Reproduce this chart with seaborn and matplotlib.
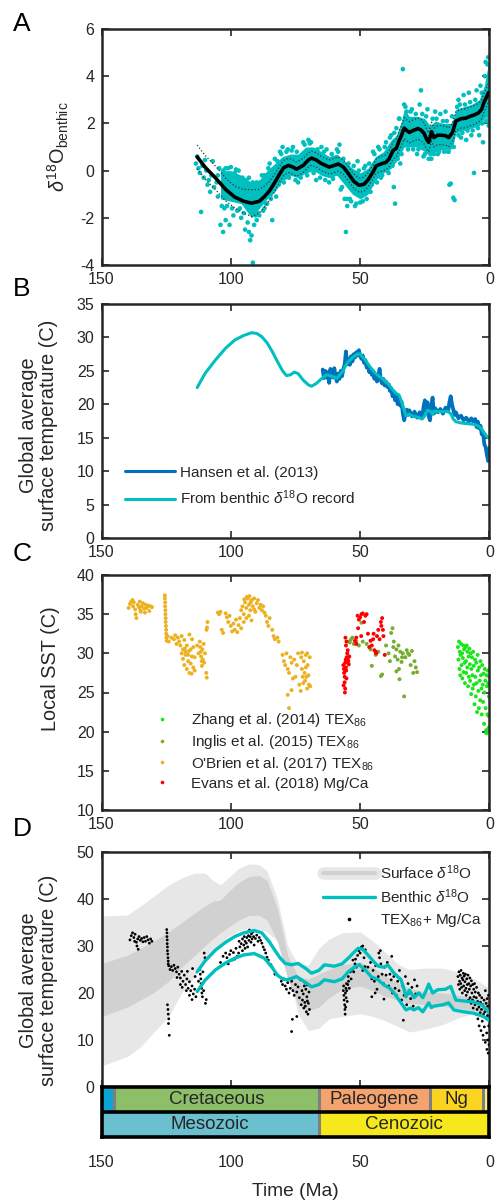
import numpy as np
import matplotlib
matplotlib.use("Agg")
import matplotlib.pyplot as plt
from matplotlib.lines import Line2D
from matplotlib.legend_handler import HandlerTuple
import seaborn as sns

# ---------------- Panel A : benthic d18O ----------------
A_age = [113, 110, 106, 102, 98.5, 95, 92, 89, 87, 85,
         83, 81, 79.6, 77.7, 76, 74.6, 72, 70, 68.8, 67,
         65, 62, 60, 58.5, 56.5, 54.6, 52.5, 50.4, 48.5, 47,
         45, 43.8, 41.5, 40, 38.8, 37.3, 36, 35, 34, 33,
         32, 31, 29.5, 27.7, 26.5, 25.3, 24.2, 23.5, 22.4, 21.5,
         20, 18.8, 17, 15.8, 14.3, 13, 11, 9.2, 7.5, 6.1,
         4.2, 3, 2.3, 1.2, 0.4, 0]
A_d18 = [0.58, 0.15, -0.3, -0.8, -1.12, -1.3, -1.38, -1.3, -1.1, -0.85,
         -0.5, -0.12, 0.12, 0.22, 0.15, 0.06, 0.22, 0.45, 0.53, 0.45,
         0.3, 0.15, 0.22, 0.28, 0.15, -0.12, -0.45, -0.62, -0.58, -0.4,
         -0.05, 0.2, 0.3, 0.35, 0.5, 0.85, 0.95, 1.25, 1.5, 1.8,
         1.7, 1.62, 1.7, 1.78, 1.72, 1.58, 1.3, 1.2, 1.65, 1.4,
         1.5, 1.5, 1.48, 1.4, 1.62, 2.1, 2.2, 2.22, 2.3, 2.35,
         2.45, 2.6, 2.85, 3.1, 3.3, 3.3]
A_err = [0.5, 0.5, 0.5, 0.48, 0.46, 0.5, 0.57, 0.5, 0.45, 0.4,
         0.36, 0.33, 0.32, 0.3, 0.3, 0.3, 0.3, 0.3, 0.3, 0.3,
         0.3, 0.3, 0.3, 0.3, 0.3, 0.3, 0.3, 0.3, 0.3, 0.3,
         0.3, 0.3, 0.32, 0.32, 0.33, 0.35, 0.38, 0.4, 0.42, 0.45,
         0.45, 0.45, 0.45, 0.45, 0.45, 0.45, 0.42, 0.4, 0.4, 0.4,
         0.4, 0.4, 0.4, 0.4, 0.4, 0.4, 0.4, 0.4, 0.4, 0.4,
         0.4, 0.4, 0.4, 0.4, 0.4, 0.4]

# dense part of the benthic data cloud (lower / upper envelope)
core_age = [104, 100, 96, 92, 89, 86, 83, 80, 77, 74, 71, 68, 65, 62, 59, 56, 53, 50, 47, 44,
            41, 38, 36, 34, 33, 31, 28, 25, 23, 21, 18, 15, 14, 13, 10, 7, 4, 2, 1, 0]
core_lo = [-1.2, -1.3, -1.4, -2.0, -1.6, -1.2, -0.9, -0.4, -0.2, -0.3, -0.1, 0.0, -0.2, -0.3, -0.2, -0.6, -1.0, -1.2, -1.0, -0.4,
           -0.1, 0.1, 0.4, 0.8, 1.0, 1.0, 1.0, 0.8, 0.6, 0.8, 0.9, 0.9, 1.1, 1.6, 1.7, 1.8, 1.9, 2.2, 2.3, 2.0]
core_hi = [0.0, 0.0, -0.2, -0.5, -0.4, 0.0, 0.3, 0.6, 0.7, 0.7, 1.0, 1.0, 0.8, 0.6, 0.7, 0.4, 0.1, -0.1, 0.1, 0.6,
           0.8, 1.3, 1.5, 2.1, 2.6, 2.3, 2.3, 2.2, 1.9, 2.1, 2.0, 2.0, 2.2, 2.6, 2.7, 2.8, 3.0, 3.6, 4.2, 4.8]

# scattered individual benthic measurements
A_pt_age = [113.5, 113, 112.5, 112, 111.5, 111, 110.5, 110, 109.5, 109, 108.5, 108, 107.5, 107, 106.5, 105.5, 105,
            104, 103, 102, 101, 100.5, 99, 98, 96, 94.5, 93, 92.5, 92, 91.5, 91, 90, 89, 88, 87, 86.5,
            85, 84, 83.5, 81, 80, 79, 78, 76, 74, 72, 70, 69, 67, 65, 63, 62, 59, 58, 57.5, 56, 55.5,
            55, 54, 52, 51, 49, 48, 46, 45, 43, 42, 40, 39, 38, 37, 36.5, 36, 35, 34.5, 33.5, 33, 32,
            30, 28, 27, 26.5, 25.5, 24, 22.5, 21, 20, 19, 17, 16, 15.5, 15, 14, 13.5, 12, 11, 10, 9,
            8, 7, 6, 5, 4, 3.5, 2.5, 1.5, 0.8, 0.3,
            105, 104.5, 103.5, 103, 102.5, 102, 101.5, 100, 99.5, 98.5, 97.5, 97, 96.5, 95.5, 95, 94, 93.5, 93,
            91.5, 90.5, 90, 89.5, 88.5, 87.5, 87, 86, 85.5, 84.5, 83, 82.5, 82, 81.5, 80.5, 79.5, 78.5, 77.5,
            76.5, 75, 74.5, 73, 71.5, 70.5, 69.5, 68, 66.5, 65.5, 64, 63.5, 61, 60.5, 58.5, 57, 56.5, 55,
            54.5, 53.5, 52.5, 51.5, 50.5, 50, 48.5, 47.5, 46.5, 45.5, 44.5, 43.5, 42.5, 41.5, 40.5, 39.5, 38.5,
            37.5, 36.8, 35.5, 34.8, 34, 32.5, 31.5, 30.5, 29.5, 28.5, 27.5, 26, 25, 24.5, 23.5, 22, 21.5,
            20.5, 19.5, 18, 17.5, 16.5, 15.8, 14.5, 13.8, 12.5, 12, 11.5, 10.5, 9.5, 8.5, 7.5, 6.5, 5.5,
            4.5, 3, 2.8, 1.8, 1.2, 0.5, 0.2]
A_pt_val = [0.3, 0.6, 0.1, -0.1, -1.75, 0.2, -0.3, 0.45, 0.0, -0.6, -0.4, -0.9, -0.2, 0.4, -0.7, -0.5, -1.1,
            -2.3, -2.6, -2.1, 0.1, -2.3, -1.9, 0.05, -2.0, -2.5, -2.6, -2.95, -2.75, -3.9, -2.3, -2.1, -1.9, -0.2, -1.6, -1.4,
            0.3, -2.1, -0.1, 0.8, 1.0, -0.3, 0.9, 1.0, -0.5, 1.2, 1.3, 1.2, -0.4, 1.0, 0.9, -0.5, 0.9, 1.1, -0.8, -1.2, -2.6,
            -1.5, -1.2, -1.5, 0.4, -1.3, 0.2, -0.9, 0.8, 1.0, -0.3, 1.2, -0.1, 1.5, -0.7, -1.4, 1.8, 2.2, 0.3, 4.3, 2.8, 2.5,
            2.6, 0.7, 2.8, 3.4, 0.6, 2.6, 0.5, 2.5, 0.7, 2.4, 2.5, 0.8, -0.6, -0.55, -1.15, -1.25, 3.0, 1.4, 3.2, 1.3,
            3.3, 1.5, -0.1, 3.4, 1.5, 3.6, 1.2, 4.6, 4.5, 1.9,
            -0.2, 0.1, -1.5, 0.0, -1.6, 0.1, -1.5, 0.15, -1.6, -0.1, -1.7, 0.0, -1.6, -0.3, -1.8, -0.4, -2.2, -0.3,
            -0.5, -1.9, -0.5, -1.8, -0.5, -1.7, -0.2, -1.4, 0.1, -1.2, 0.5, -1.1, 0.4, -0.6, 0.7, -0.5, 0.8, -0.3,
            0.85, -0.4, 0.8, -0.3, 1.1, -0.2, 1.15, -0.1, 0.9, -0.3, 0.8, -0.4, 0.7, -0.35, 0.8, -0.7, 0.5, -1.2,
            0.3, -1.3, 0.2, -1.4, 0.0, -1.35, 0.1, -1.2, 0.3, -0.6, 0.7, -0.5, 0.9, -0.2, 1.0, 0.0, 1.4,
            0.2, 1.6, 0.5, 2.2, 0.7, 2.7, 0.9, 2.5, 0.9, 2.4, 0.9, 2.4, 0.7, 2.3, 0.5, 2.2, 0.7,
            2.2, 0.8, 2.1, 0.8, 2.1, 0.8, 2.3, 1.0, 2.7, 1.5, 2.8, 1.6, 2.8, 1.7, 2.9, 1.7, 3.0,
            1.8, 3.3, 2.0, 4.0, 2.1, 4.8, 2.2]

# ---------------- Panel B : global mean surface temperature ----------------
H_age = [64.5, 64, 63.5, 63, 62.5, 62, 61.5, 61, 60.5, 60, 59.5, 59, 58.5, 58, 57.5, 57, 56.5, 56, 55.5, 55,
         54.5, 54, 53.5, 53, 52.5, 52, 51.5, 51, 50.5, 50, 49.5, 49, 48.5, 48, 47.5, 47, 46.5, 46, 45.5, 45,
         44.5, 44, 43.5, 43, 42.5, 42, 41.5, 41, 40.5, 40, 39.5, 39, 38.5, 38, 37.5, 37, 36.5, 36, 35.5, 35,
         34.5, 34, 33.5, 33, 32.5, 32, 31.5, 31, 30, 29, 28, 27, 26, 25.5, 25, 24.5, 24, 23.5, 23, 22.5,
         22, 21.5, 21, 20, 19, 18, 17, 16, 15.5, 15, 14.5, 14, 13.5, 13, 12, 11, 10, 9, 8, 7,
         6, 5.5, 5, 4.5, 4, 3.5, 3, 2.5, 2, 1.5, 1, 0.5, 0]
H_T = [25.2, 23.9, 25.0, 24.0, 24.8, 23.2, 25.3, 24.5, 24.0, 25.4, 24.1, 23.4, 24.6, 23.8, 25.0, 24.2, 25.3, 25.9, 27.9, 26.0,
       26.8, 25.9, 27.2, 26.4, 27.5, 27.0, 27.8, 27.3, 28.1, 27.2, 26.8, 27.3, 26.2, 26.6, 25.5, 25.9, 24.8, 25.3, 24.4, 24.9,
       23.8, 24.4, 23.4, 24.0, 25.3, 23.6, 23.1, 23.8, 22.8, 23.4, 22.6, 23.0, 22.0, 22.4, 21.2, 21.8, 20.6, 21.3, 20.0, 20.9,
       19.8, 20.4, 18.6, 17.6, 18.5, 19.2, 18.4, 19.1, 18.2, 18.9, 18.0, 18.8, 18.1, 19.6, 20.6, 19.0, 20.3, 18.2, 17.6, 19.8,
       21.0, 18.6, 19.4, 18.8, 19.3, 18.6, 19.5, 19.0, 20.3, 21.2, 20.0, 19.2, 18.4, 18.8, 17.9, 18.3, 17.6, 18.0, 17.4, 17.9,
       17.2, 17.8, 16.6, 17.4, 16.4, 16.8, 15.5, 15.8, 14.0, 13.6, 12.4, 11.5, 13.5]

B_age = [113, 110, 106, 102, 98.5, 95, 92, 90, 88, 86, 84, 82, 80, 78.5, 77, 75.5, 74, 72, 70, 68.8,
         67, 65, 63, 61, 59, 57, 55, 53, 51, 50, 48, 46, 44, 42, 40.5, 39, 37.5, 36, 35, 34,
         33, 32.3, 31, 29.5, 28, 26, 25, 24, 23, 22, 21.5, 20, 18, 16, 15, 14, 13, 11, 8.5, 6,
         4.5, 3, 2, 1, 0]
B_T = [22.5, 24.6, 26.6, 28.4, 29.6, 30.3, 30.7, 30.6, 30.1, 29.2, 27.9, 26.4, 25.0, 24.3, 24.4, 24.8, 24.6, 23.6, 22.9, 22.7,
       23.1, 23.8, 24.4, 24.2, 23.9, 24.8, 26.2, 27.0, 27.5, 27.5, 26.6, 25.5, 24.6, 24.0, 23.5, 23.0, 22.2, 21.6, 21.4, 20.4,
       19.2, 18.3, 18.5, 18.2, 18.1, 17.8, 18.3, 19.1, 19.0, 18.5, 19.0, 18.9, 18.9, 18.9, 18.6, 17.8, 17.4, 17.2, 17.1, 17.0,
       16.8, 16.3, 15.7, 15.2, 14.9]

# ---------------- Panel C : local SST proxies ----------------
obrien_age = [139.5, 139, 138.5, 138, 137.5, 137, 136.8, 136.5, 136, 135.5, 135, 134.5, 134, 133.5, 133, 132.5, 132, 131.5, 131, 130.5,
              137.8, 135.2, 133.2, 134.8,
              125.5, 125.5, 125.4, 125.4, 125.3, 125.3, 125.2, 125.2, 125.1, 125.0, 125.0, 124.9, 124.8,
              124.5, 124, 123, 122, 121.5, 121, 120.5, 120, 119.5, 119, 118.5, 118, 117.5, 117, 116.5, 116, 115.5, 115, 114.5, 114,
              119, 118.5, 118, 117.5, 117, 116.5, 116, 115.5, 115, 114.5, 114, 117.8, 116.2, 115.2,
              112, 111.8, 111.6, 111.5, 111.3, 111.2, 111, 110.8, 110.5, 110.3, 110, 109.5, 109.3, 112.5, 113, 109, 109.2, 109.4,
              105, 104.5, 104, 103.5, 103, 102, 101.5, 101, 100.5, 100, 99.5, 99, 98.5, 98, 97.5, 97, 96.5, 96,
              96, 95.5, 95, 94.5, 94, 93.5, 93, 92.8, 92.5, 92, 91.5, 91, 90.5, 90, 89.5, 94, 95, 93, 92, 91, 93.8, 92.3, 94.8,
              89, 88.5, 88, 87.5, 87, 86.5, 86, 85.5, 85, 84, 83.5, 83, 82, 81.5,
              80, 79.5, 79, 78.5, 78, 77.5, 77, 76.5, 76, 75.5, 75, 74.5, 74, 73.5, 73, 72.8, 72.5, 72.2, 72, 71.8,
              71.5, 71.3, 71, 70.8, 70.5, 70.3, 70, 69.8, 69.5, 69.3, 78, 76.5, 77.5, 72.5, 71, 70.5]
obrien_T = [35.8, 36.3, 36.6, 36.8, 36.5, 35.6, 35.0, 34.5, 36.2, 35.9, 35.5, 36.0, 36.4, 35.7, 36.2, 35.8, 36.1, 35.4, 36.0, 35.9,
            36.0, 36.6, 35.2, 35.3,
            37.4, 37.0, 36.5, 36.0, 35.5, 35.0, 34.5, 34.0, 33.5, 33.0, 32.5, 32.0, 31.6,
            32.2, 31.5, 32.0, 31.8, 32.3, 31.2, 32.0, 31.5, 31.0, 32.2, 30.5, 31.7, 30.2, 31.0, 29.8, 32.4, 30.5, 31.8, 30.8, 29.5,
            30.0, 29.3, 28.5, 29.8, 28.0, 29.0, 27.5, 28.7, 29.6, 28.2, 27.8, 30.6, 30.3, 27.4,
            31.5, 30.8, 30.2, 29.6, 29.0, 28.4, 30.5, 29.2, 31.2, 28.8, 30.0, 27.5, 26.9, 30.0, 31.0, 34.0, 33.3, 33.0,
            35.2, 35.0, 35.3, 33.0, 32.6, 35.1, 34.6, 34.0, 34.8, 33.5, 32.8, 33.8, 33.0, 34.3, 32.7, 33.6, 34.5, 33.2,
            35.5, 36.0, 35.0, 36.5, 35.8, 37.0, 36.2, 37.3, 35.5, 36.8, 36.0, 37.0, 35.3, 36.4, 36.8, 34.5, 34.0, 34.8, 34.2, 35.6, 37.2, 36.5, 36.9,
            35.8, 36.2, 35.5, 36.0, 35.2, 34.8, 34.0, 33.5, 34.5, 33.0, 32.2, 31.8, 32.0, 31.5,
            29.8, 29.0, 28.5, 30.0, 28.0, 27.5, 29.5, 28.8, 26.8, 29.2, 27.0, 28.5, 30.0, 26.0, 25.2, 29.5, 28.0, 27.0, 26.2, 29.0,
            27.5, 26.5, 28.2, 27.0, 25.5, 28.5, 27.2, 26.0, 29.5, 25.8, 24.7, 25.3, 23.0, 30.1, 29.8, 30.0]

evans_age = [56.5, 56.3, 56.2, 56, 56, 55.8, 55.8, 55.6, 55.5, 55.4, 55.3, 55.2, 55, 54.8, 54.6, 54.4, 54.2, 56.4, 55.9, 55.5,
             55.7, 55.3, 54.8, 52, 51.5, 51, 50.5, 50, 49.5, 49, 48.5, 48, 47.5, 51.5, 50.8, 49.6,
             47, 46.5, 46, 45.5, 45, 44.5, 44, 43.5, 43, 42.5, 42, 41.8, 41.5, 41.2, 41, 44.8, 43.8, 40.5]
evans_T = [28.5, 28.0, 27.5, 27.0, 26.3, 25.5, 28.8, 29.2, 28.2, 27.8, 26.8, 29.5, 30.0, 29.3, 29.0, 28.6, 29.6, 25.9, 25.0, 31.0,
           32.0, 31.5, 30.4, 31.6, 32.0, 34.8, 34.3, 34.6, 35.0, 35.1, 34.0, 34.8, 35.0, 31.2, 33.2, 32.2,
           32.5, 30.8, 31.6, 31.0, 31.8, 30.4, 30.2, 32.2, 33.0, 31.8, 34.0, 33.5, 34.5, 33.0, 32.2, 32.5, 30.0, 29.8]

inglis_age = [54.5, 54, 53.5, 53, 52.5, 51.5, 50.5, 49.5, 49, 47.5, 46, 45.5, 44, 43, 42, 41.5, 40, 39, 38.5, 38,
              37.5, 37.2, 37, 36.5, 36, 35.5, 35, 34.8, 34.5, 34, 33.5, 33, 32.5, 32, 31.5, 31, 30.5, 30, 29.5, 29,
              28.5, 28, 36, 35.2, 33.8]
inglis_T = [31.5, 31.4, 31.8, 32.0, 31.2, 31.5, 31.0, 33.9, 31.5, 31.2, 30.5, 28.4, 29.8, 30.2, 27.1, 27.3, 31.0, 30.0, 29.0, 32.6,
            33.2, 30.8, 31.5, 29.6, 30.5, 29.2, 28.0, 26.7, 30.2, 28.9, 30.0, 24.5, 29.5, 30.4, 30.0, 29.8, 28.5, 30.3, 27.5, 29.0,
            28.2, 27.6, 27.7, 31.0, 29.5]

zhang_age = [12.2, 12, 11.8, 11.6, 11.5, 11.3, 11.2, 11, 10.8, 10.6, 10.5, 10.3, 10.1, 10, 9.8, 9.6, 9.5, 9.3, 9.1, 9,
             8.8, 8.6, 8.5, 8.3, 8.1, 8, 7.8, 7.6, 7.5, 7.3, 7.1, 7, 6.8, 6.6, 6.5, 6.3, 6.1, 6, 5.8, 5.6,
             5.5, 5.3, 5.1, 5, 4.8, 4.6, 4.5, 4.3, 4.1, 4, 3.8, 3.6, 3.5, 3.3, 3.1, 3, 2.8, 2.6, 2.5, 2.3,
             2.1, 2, 1.8, 1.6, 1.5, 1.3, 1.1, 1, 0.8, 0.6, 0.5, 0.3, 0.2, 0.1, 0.9, 1.2, 0.4]
zhang_T = [30.8, 29.2, 31.5, 28.0, 30.2, 27.2, 29.8, 31.2, 28.5, 30.0, 26.8, 29.4, 31.0, 27.6, 30.5, 28.8, 26.2, 30.8, 29.0, 27.5,
           31.0, 28.2, 30.2, 25.8, 29.6, 27.0, 30.6, 28.6, 26.5, 30.0, 24.8, 28.0, 29.5, 27.2, 25.5, 30.2, 28.4, 26.0, 23.5, 29.2,
           27.0, 24.5, 28.8, 26.2, 22.5, 29.8, 27.8, 25.2, 23.0, 28.2, 26.5, 24.0, 29.0, 27.2, 25.5, 22.2, 28.5, 26.0, 23.8, 27.4,
           21.0, 25.0, 28.0, 26.5, 23.0, 20.2, 27.2, 25.8, 22.2, 27.8, 26.2, 20.5, 24.5, 27.0, 20.0, 19.8, 22.0]

# ---------------- Panel D : global mean temperature estimates ----------------
band_age = [150, 140, 135, 130, 124, 119, 114, 110, 107, 104, 101, 97, 93, 89, 86, 82, 78, 74, 70, 66,
            62, 57, 50, 45, 40, 35, 31, 25, 18, 12, 6, 0]
outer_hi = [36.4, 36.6, 38.5, 40.5, 43, 44.5, 45.5, 45.5, 44, 43, 44.5, 46.5, 47.5, 47.3, 46, 40, 30, 26, 26, 29.5,
            31.5, 32.8, 33, 31, 28.5, 26, 25, 25.3, 25.3, 24.5, 23, 21]
outer_lo = [4.5, 6.5, 8.5, 11.5, 15, 20, 23.5, 27, 28.7, 30.5, 32, 33.2, 33.8, 33.5, 33, 31, 25, 15.5, 12, 12.5,
            14.5, 15, 15.6, 15, 14, 12.8, 11.7, 12.3, 13.3, 14.7, 15.7, 16.4]
inner_hi = [26.3, 28, 29.5, 31, 33, 35, 37, 38.5, 39.5, 39.8, 41.5, 43.5, 44.8, 45, 44, 38, 28, 23.5, 23, 24,
            25, 26, 26.5, 25.5, 23.5, 22, 21, 20.3, 20, 19.5, 19, 18.5]
inner_lo = [15, 17, 18.5, 20, 22.5, 25.5, 28, 30, 31.5, 32.8, 34, 35.5, 36.5, 36.5, 35.5, 31, 23, 17.5, 16.2, 17,
            19, 20.8, 21.5, 20.5, 19.2, 18.5, 17.8, 17.5, 17.2, 16.8, 16.2, 15.5]

Dup_age = [113, 110, 106, 102, 98.5, 95, 91, 88, 85, 83, 81, 79, 76.5, 74, 71, 68.8, 66, 63.8, 60, 57,
           54.6, 52.5, 50.8, 49, 47, 45, 43, 41, 39.2, 36.9, 34.2, 33, 32.3, 31, 29.2, 27.3, 25.8, 24.5, 23.5, 22,
           20, 17, 15, 13, 10, 6.1, 2.7, 0]
Dup_T = [24.5, 26.8, 29.1, 30.8, 32, 32.8, 33.3, 32.8, 30.8, 29.1, 27.5, 26.3, 26, 26.3, 25.2, 24.2, 24.8, 26, 25.7, 26.2,
         27.4, 28.6, 29.5, 29.3, 28.1, 26.8, 25.7, 25.5, 25.9, 24.2, 22.8, 20.8, 19.2, 20.6, 19, 20, 19, 20.5, 21.9, 20,
         20.7, 20.8, 21.4, 18.5, 18.3, 18.1, 17.4, 15.7]
Dlo_age = [113, 110, 106, 102, 98.5, 95, 91, 87, 84, 82, 80, 78.5, 76, 74.6, 71, 68.8, 66, 63.8, 60, 57,
           54.6, 52, 50.4, 48, 45.8, 43, 40.8, 38.5, 36.9, 34.2, 32.3, 30.5, 29.2, 27.5, 25.8, 23.5, 22.5, 21.5, 18, 15.8,
           13.8, 10, 6.1, 2.3, 0]
Dlo_T = [20.3, 22.7, 24.9, 26.4, 27.4, 28.1, 28.4, 27.4, 25.4, 23.8, 23.0, 22.8, 23.2, 23.5, 22.2, 21.3, 21.8, 22.8, 22.4, 23.0,
         24.5, 25.6, 26.0, 24.9, 23.5, 22.8, 21.7, 21.0, 20.0, 17.9, 16.4, 16.8, 16.4, 16.9, 16.0, 17.9, 16.9, 17.2, 17.5, 17.9,
         16.4, 16.0, 15.7, 15.0, 14.1]

tex_age = [139, 138.5, 138, 137.5, 137, 136.5, 136.3, 136, 135.5, 135, 134.5, 134, 133.5, 133, 132.5, 132, 131.5, 131, 130.5, 135.8, 137.2,
           124.8, 124.7, 124.7, 124.6, 124.6, 124.5, 124.5, 124.4, 124.3, 124.2, 124.2, 124.5, 124.3, 124.2, 124.0, 124.1, 123.8,
           124, 123.5, 123, 122.5, 122, 121.5, 121, 120.5, 120, 119.5, 119, 118.5, 118, 117.5, 117, 116.5, 116, 115.5, 115, 114.5,
           114, 113.5, 118.8, 117.2, 116, 115, 113.8, 114.8, 119.5, 120.8, 116.8,
           112, 111.8, 111.6, 111.5, 111.3, 111.2, 111, 110.8, 110.5, 110.3, 110, 109.8, 109.5, 112.5,
           104, 103, 102, 101.5, 101, 100.5, 100, 99.5, 99, 98.5, 98, 97.5, 97, 96.5, 96, 95.5, 95, 94.8, 94.5, 94.2,
           94, 93.8, 93.5, 93.2, 93, 92.8, 92.5, 92.2, 92, 91.8, 91.5, 91.2, 91, 90.5, 90, 89.5, 89, 88.5, 88, 87.5,
           87, 86.5, 86, 85.5, 84.5, 84, 83, 95.5, 94.5, 93.5, 96.8,
           80.5, 80, 79.5, 79, 78.5, 78, 77.5, 77, 76.5, 76, 75.5, 75, 74.5, 74, 73.5, 73, 72.8, 72.5, 72.3, 72,
           71.8, 71.6, 71.4, 71.2, 71, 70.8, 70.6, 70.4, 70.2, 70, 69.8, 69.6, 71.5, 70.5, 76.2, 76.5, 74.5,
           56.5, 56.3, 56.2, 56, 55.9, 55.8, 56.4, 55.7, 55.5, 55.4, 55.3, 55.2, 55, 54.8, 54.5, 54.2, 55.6, 54.6, 53.8, 53.5,
           53, 52.5, 52, 51.5, 51, 50.5, 50, 49.5, 49, 48.5, 48, 52.8, 51.8, 50.2, 49, 48.2,
           47, 46.5, 46, 45.5, 45, 44.5, 44, 43.5, 43, 42.8, 42.5, 42.2, 42, 41.5, 41, 40.5, 40, 39.5, 39, 38.5,
           38, 37.8, 37.5, 37, 36.5, 36, 45.5, 44.2, 40.8,
           35.5, 35, 34.5, 34, 33.5, 33, 32.5, 32, 31.5, 31, 30.5, 30, 29.5, 29, 28.5, 28, 33.3, 34.8,
           12.2, 12, 11.8, 11.6, 11.5, 11.3, 11.1, 11, 10.8, 10.6, 10.5, 10.3, 10.1, 10, 9.8, 9.6, 9.5, 9.3, 9.1, 9,
           8.8, 8.6, 8.5, 8.3, 8.1, 8, 7.8, 7.6, 7.5, 7.3, 7.1, 7, 6.8, 6.6, 6.5, 6.3, 6.1, 6, 5.8, 5.6,
           5.5, 5.3, 5.1, 5, 4.8, 4.6, 4.5, 4.3, 4.1, 4, 3.8, 3.6, 3.5, 3.3, 3.1, 3, 2.8, 2.6, 2.5, 2.3,
           2.1, 2, 1.8, 1.6, 1.5, 1.3, 1.1, 1, 0.8, 0.6, 0.5, 0.3, 0.2, 0.1, 0.9, 0.4, 1.6, 0.7]
tex_T = [31.3, 32.2, 32.8, 31.8, 32.5, 30.8, 30.0, 31.5, 32.0, 31.2, 31.6, 30.9, 31.8, 31.0, 32.0, 31.3, 30.6, 31.5, 31.0, 29.3, 31.0,
         33.5, 32.8, 32.0, 31.3, 30.5, 29.8, 29.0, 28.3, 27.5, 26.8, 26.2, 17.5, 16.5, 15.5, 14.5, 13.5, 11.0,
         25.8, 25.0, 25.6, 24.8, 25.9, 25.2, 24.5, 25.5, 24.0, 23.2, 24.6, 22.5, 23.8, 21.8, 23.0, 21.0, 22.4, 20.5, 21.5, 19.8,
         20.8, 19.2, 21.2, 20.5, 19.5, 18.6, 23.5, 25.2, 21.8, 23.3, 24.6,
         25.0, 24.0, 23.0, 22.0, 21.0, 20.0, 19.2, 24.5, 20.5, 28.5, 27.5, 17.8, 18.6, 22.5,
         26.5, 27.8, 28.5, 27.5, 26.2, 28.2, 29.0, 27.0, 28.6, 27.2, 29.5, 27.8, 28.5, 29.8, 30.5, 31.5, 30.2, 32.0, 31.0, 32.8,
         30.6, 31.8, 33.0, 32.2, 31.2, 33.4, 32.0, 30.8, 32.6, 31.5, 33.0, 32.0, 30.2, 31.6, 32.3, 31.0, 31.8, 31.2, 30.6, 29.8,
         29.2, 28.5, 27.6, 27.0, 26.0, 25.5, 24.0, 29.0, 29.5, 29.8, 31.0,
         22.5, 21.8, 23.0, 21.5, 20.8, 22.2, 20.0, 21.0, 22.5, 20.5, 19.5, 21.8, 20.2, 21.3, 19.0, 22.8, 17.5, 20.5, 18.5, 19.8,
         16.8, 21.5, 18.0, 17.2, 20.8, 16.0, 19.2, 18.3, 15.5, 17.8, 20.2, 16.5, 22.3, 21.7, 14.4, 11.8, 15.0,
         20.5, 19.5, 18.5, 17.5, 16.5, 15.5, 21.5, 20.0, 21.0, 19.0, 22.0, 20.5, 18.2, 21.8, 22.5, 21.0, 17.0, 23.5, 24.5, 23.0,
         25.0, 24.5, 26.2, 25.5, 28.0, 29.0, 28.5, 29.8, 30.0, 27.5, 29.2, 27.0, 27.2, 26.0, 24.8, 25.6,
         25.5, 24.0, 26.5, 23.0, 24.8, 22.5, 25.8, 20.8, 23.5, 28.5, 27.5, 29.0, 26.2, 24.0, 22.0, 25.5, 23.8, 26.5, 21.5, 24.0,
         22.8, 27.8, 20.0, 23.5, 21.0, 19.5, 19.2, 20.0, 18.7,
         22.5, 20.5, 23.0, 18.5, 21.5, 19.5, 23.5, 17.5, 22.0, 20.0, 18.8, 21.2, 17.2, 22.8, 19.8, 21.5, 14.2, 24.8,
         23.5, 21.8, 24.5, 22.5, 20.8, 23.8, 22.0, 24.8, 21.2, 23.2, 20.0, 22.8, 24.2, 21.5, 23.6, 20.5, 22.4, 24.0, 21.0, 19.5,
         23.0, 21.8, 20.2, 23.8, 18.5, 22.0, 20.8, 23.2, 19.0, 21.5, 17.8, 22.6, 20.0, 18.5, 21.8, 16.8, 20.8, 19.2, 22.0, 17.5,
         20.2, 15.5, 19.0, 21.2, 16.5, 18.2, 14.5, 20.0, 17.0, 13.0, 19.5, 15.8, 18.0, 12.0, 16.5, 19.0, 14.0, 17.5, 11.0, 15.5,
         18.5, 12.8, 16.0, 9.5, 14.8, 17.8, 11.5, 8.0, 15.2, 10.0, 7.2, 13.0, 9.0, 16.0, 18.8, 19.5, 20.5, 17.2]

# ---------------- geologic time scale ----------------
period_names = ['', 'Cretaceous', 'Paleogene', 'Ng', '']
period_old = [150, 145, 66, 23, 2.6]
period_young = [145, 66, 23, 2.6, 0]
period_colors = ['#0aa5d5', '#8cbf67', '#f4a36f', '#fdd321', '#fbf08c']
era_names = ['Mesozoic', 'Cenozoic']
era_old = [150, 66]
era_young = [66, 0]
era_colors = ['#6bc0d0', '#f5e81b']

x_ticks = [150, 100, 50, 0]

# ---------------- styling ----------------
sns.set_theme(style='ticks')
plt.rcParams['font.family'] = ['Liberation Sans', 'DejaVu Sans']
plt.rcParams['mathtext.fontset'] = 'custom'
plt.rcParams['mathtext.rm'] = 'Liberation Sans'
plt.rcParams['mathtext.it'] = 'Liberation Sans:italic'
plt.rcParams['mathtext.bf'] = 'Liberation Sans:bold'
plt.rcParams['axes.unicode_minus'] = False

TXT = '#262626'
CYAN = '#00bfbf'
HANSEN = '#0072bd'
ZHANG = '#19e619'
INGLIS = '#77ac30'
OBRIEN = '#edb120'
EVANS = '#ff0000'
OUTER = '#e7e7e7'
INNER = '#d1d1d1'
TICK_FS = 11.5
LAB_FS = 14.3

fig = plt.figure(figsize=(5.03, 12.02), dpi=100)
L, W = 101.5 / 503, 388 / 503


def rect(top_px, bot_px):
    return [L, 1 - bot_px / 1202, W, (bot_px - top_px) / 1202]


axA = fig.add_axes(rect(29, 265))
axB = fig.add_axes(rect(304, 538))
axC = fig.add_axes(rect(575, 810))
axD = fig.add_axes(rect(852, 1087))
axT = fig.add_axes(rect(1087, 1137))


def style(ax, yticks, ylim):
    ax.set_xlim(150, 0)
    ax.set_ylim(*ylim)
    ax.set_xticks(x_ticks)
    ax.set_yticks(yticks)
    ax.tick_params(direction='in', top=True, right=True, length=5, width=1.2,
                   colors=TXT, labelsize=TICK_FS, pad=5)
    for s in ax.spines.values():
        s.set_linewidth(1.8)
        s.set_color(TXT)
        s.set_visible(True)
    ax.set_xlabel('')


# ---- A ----
ax = axA
ax.fill_between(core_age, core_lo, core_hi, color=CYAN, lw=0, zorder=1)
sns.scatterplot(x=A_pt_age, y=A_pt_val, ax=ax, color=CYAN, s=11, edgecolor='none', linewidth=0, zorder=2)
up = [m + e for m, e in zip(A_d18, A_err)]
lo = [m - e for m, e in zip(A_d18, A_err)]
sns.lineplot(x=A_age, y=up, ax=ax, color='#333333', lw=0.9, ls=':', estimator=None, sort=False, zorder=3)
sns.lineplot(x=A_age, y=lo, ax=ax, color='#333333', lw=0.9, ls=':', estimator=None, sort=False, zorder=3)
sns.lineplot(x=A_age, y=A_d18, ax=ax, color='black', lw=2.6, estimator=None, sort=False, zorder=4)
style(ax, [-4, -2, 0, 2, 4, 6], (-4, 6))
ax.set_ylabel(r'$\delta^{18}$O$_{\mathrm{benthic}}$', fontsize=LAB_FS, color=TXT)
ax.yaxis.set_label_coords(-0.078, 0.5)

# ---- B ----
ax = axB
sns.lineplot(x=H_age, y=H_T, ax=ax, color=HANSEN, lw=2.7, estimator=None, sort=False)
sns.lineplot(x=B_age, y=B_T, ax=ax, color=CYAN, lw=2.2, estimator=None, sort=False)
style(ax, list(range(0, 36, 5)), (0, 35))
ax.set_ylabel('Global average\nsurface temperature (C)', fontsize=LAB_FS, color=TXT, linespacing=1.05)
ax.yaxis.set_label_coords(-0.112, 0.483)
hB = [Line2D([0], [0], color=HANSEN, lw=2.2), Line2D([0], [0], color=CYAN, lw=2.2)]
ax.legend(hB, ['Hansen et al. (2013)', r'From benthic $\delta^{18}$O record'], loc='upper left',
          bbox_to_anchor=(0.045, 0.335), frameon=False, fontsize=11, handlelength=3.3,
          handletextpad=0.3, labelspacing=0.6, borderaxespad=0, labelcolor=TXT)

# ---- C ----
ax = axC
sns.scatterplot(x=obrien_age, y=obrien_T, ax=ax, color=OBRIEN, s=8, edgecolor='none', linewidth=0)
sns.scatterplot(x=inglis_age, y=inglis_T, ax=ax, color=INGLIS, s=8, edgecolor='none', linewidth=0)
sns.scatterplot(x=evans_age, y=evans_T, ax=ax, color=EVANS, s=8, edgecolor='none', linewidth=0)
sns.scatterplot(x=zhang_age, y=zhang_T, ax=ax, color=ZHANG, s=8, edgecolor='none', linewidth=0)
style(ax, list(range(10, 41, 5)), (10, 40))
ax.set_ylabel('Local SST (C)', fontsize=LAB_FS, color=TXT)
ax.yaxis.set_label_coords(-0.107, 0.6)
hC = [Line2D([0], [0], marker='o', ls='none', color=c, markersize=2.6, markeredgewidth=0)
      for c in (ZHANG, INGLIS, OBRIEN, EVANS)]
ax.legend(hC, [r'Zhang et al. (2014) TEX$_{86}$', r'Inglis et al. (2015) TEX$_{86}$',
               r"O'Brien et al. (2017) TEX$_{86}$", 'Evans et al. (2018) Mg/Ca'],
          loc='upper left', bbox_to_anchor=(0.1, 0.447), frameon=False, fontsize=11,
          handlelength=2.0, handletextpad=0.9, labelspacing=0.25, borderaxespad=0, labelcolor=TXT)

# ---- D ----
ax = axD
ax.fill_between(band_age, outer_lo, outer_hi, color=OUTER, lw=0, zorder=1)
ax.fill_between(band_age, inner_lo, inner_hi, color=INNER, lw=0, zorder=2)
sns.scatterplot(x=tex_age, y=tex_T, ax=ax, color='black', s=4, edgecolor='none', linewidth=0, zorder=3)
sns.lineplot(x=Dup_age, y=Dup_T, ax=ax, color=CYAN, lw=2.4, estimator=None, sort=False, zorder=4)
sns.lineplot(x=Dlo_age, y=Dlo_T, ax=ax, color=CYAN, lw=2.4, estimator=None, sort=False, zorder=4)
style(ax, list(range(0, 51, 10)), (0, 50))
ax.tick_params(labelbottom=False)
ax.set_ylabel('Global average\nsurface temperature (C)', fontsize=LAB_FS, color=TXT, linespacing=1.05)
ax.yaxis.set_label_coords(-0.112, 0.455)
hD = [(Line2D([0], [0], color=OUTER, lw=9), Line2D([0], [0], color=INNER, lw=3)),
      Line2D([0], [0], color=CYAN, lw=2.4),
      Line2D([0], [0], marker='o', ls='none', color='black', markersize=2.6, markeredgewidth=0)]
ax.legend(hD, [r'Surface $\delta^{18}$O', r'Benthic $\delta^{18}$O', r'TEX$_{86}$+ Mg/Ca'],
          loc='upper right', bbox_to_anchor=(1.0, 0.985), frameon=False, fontsize=11,
          handlelength=3.4, handletextpad=0.3, labelspacing=0.35, borderaxespad=0.1, labelcolor=TXT,
          handler_map={tuple: HandlerTuple(ndivide=1)})

# ---- time scale bar ----
ax = axT
ax.barh([1.5] * len(period_old), [o - y for o, y in zip(period_old, period_young)], left=period_young,
        height=1.0, color=period_colors, edgecolor='none')
ax.barh([0.5] * len(era_old), [o - y for o, y in zip(era_old, era_young)], left=era_young,
        height=1.0, color=era_colors, edgecolor='none')
for b in period_old[1:]:
    ax.plot([b, b], [1.05, 1.95], color='#7f7f7f', lw=2.2, solid_capstyle='butt')
for b in era_old[1:]:
    ax.plot([b, b], [0.05, 0.95], color='#7f7f7f', lw=2.2, solid_capstyle='butt')
ax.axhline(1.0, color='black', lw=2.6)
for name, o, y in zip(period_names, period_old, period_young):
    if name:
        ax.text((o + y) / 2, 1.5, name, ha='center', va='center', fontsize=13.5, color=TXT)
for name, o, y in zip(era_names, era_old, era_young):
    ax.text((o + y) / 2, 0.5, name, ha='center', va='center', fontsize=13.5, color=TXT)
ax.set_xlim(150, 0)
ax.set_ylim(0, 2)
ax.set_xticks(x_ticks)
ax.set_yticks([])
ax.tick_params(axis='x', direction='in', length=5, width=1.2, colors=TXT, labelsize=TICK_FS, pad=13)
for s in ax.spines.values():
    s.set_linewidth(2.6)
    s.set_color('black')
    s.set_visible(True)
ax.set_xlabel('Time (Ma)', fontsize=LAB_FS - 0.5, color=TXT, labelpad=9)

# panel letters
for lab, ypx in zip(['A', 'B', 'C', 'D'], [24, 289, 554, 829]):
    fig.text(22 / 503, 1 - ypx / 1202, lab, fontsize=19, ha='center', va='center', color='black')

fig.savefig('out.png', dpi=100)
